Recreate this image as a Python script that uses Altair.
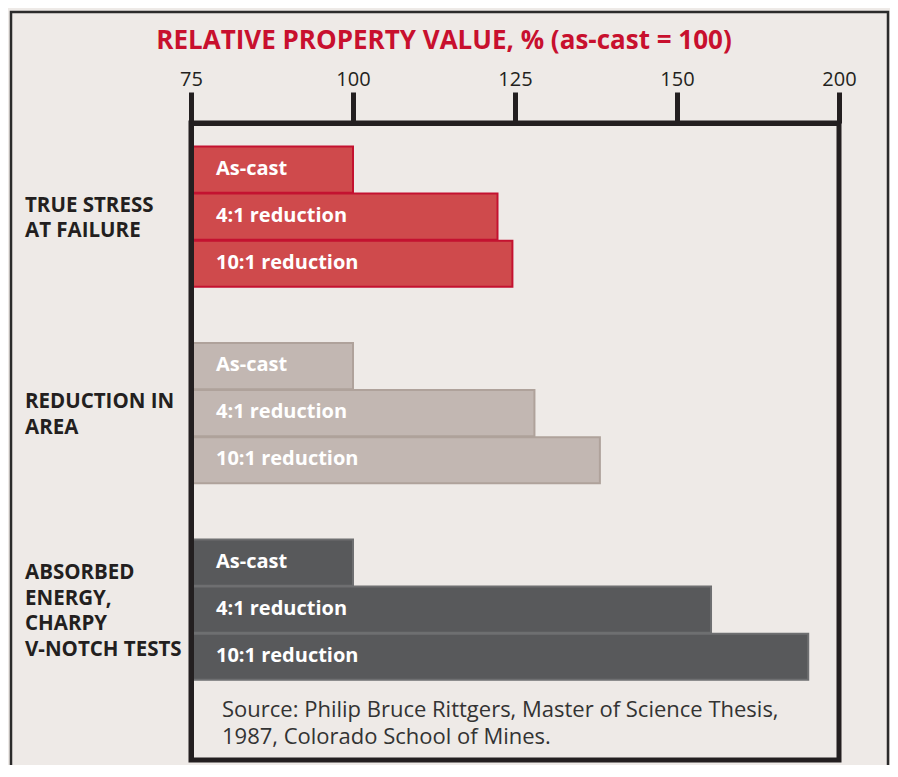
import altair as alt
import pandas as pd

# ---------------- data ----------------
TITLE = "RELATIVE PROPERTY VALUE, % (as-cast = 100)"
GROUPS = [
    "TRUE STRESS\nAT FAILURE",
    "REDUCTION IN\nAREA",
    "ABSORBED\nENERGY,\nCHARPY\nV-NOTCH TESTS",
]
SERIES = ["As-cast", "4:1 reduction", "10:1 reduction"]
TRUE_STRESS = [100, 122.3, 124.6]
REDUCTION_AREA = [100, 128.0, 138.1]
ABSORBED_ENERGY = [100, 160.5, 190.5]
TICKS = [75, 100, 125, 150, 200]
SOURCE = "Source: Philip Bruce Rittgers, Master of Science Thesis,\n1987, Colorado School of Mines."

# ---------------- styles ----------------
FILLS = ["#CF4A4C", "#C2B7B2", "#58595B"]
STROKES = ["#C41230", "#AFA29B", "#6E6F71"]
INK = "#231F20"
BG = "#EEEAE7"
FONT = "Open Sans"
CAT_LH = 25.5

rows = []
for g, vals in zip(GROUPS, [TRUE_STRESS, REDUCTION_AREA, ABSORBED_ENERGY]):
    for s, v in zip(SERIES, vals):
        rows.append({"group": g, "series": s, "value": v})
df = pd.DataFrame(rows)
gdf = pd.DataFrame({"group": GROUPS, "nlines": [g.count("\n") + 1 for g in GROUPS]})

W, H = 648, 637

xscale = alt.Scale(domain=[75, 150, 200], range=[0, 486, W], zero=False, nice=False)
yscale = alt.Scale(domain=GROUPS, paddingInner=0.2864, paddingOuter=0.264, align=0.227)
yoff = alt.YOffset("series:N", scale=alt.Scale(domain=SERIES, paddingInner=0.02, paddingOuter=0))

frame = alt.Chart(pd.DataFrame({"k": [0]})).mark_rect(
    filled=False, stroke="#2B2B2B", strokeWidth=2.5
).encode(
    x=alt.value(-180), x2=alt.value(697), y=alt.value(-111), y2=alt.value(700)
)

bars = alt.Chart(df).mark_bar(strokeWidth=2).encode(
    x=alt.X(
        "value:Q",
        scale=xscale,
        stack=None,
        axis=alt.Axis(
            orient="top", values=TICKS, title=None, grid=False,
            domainWidth=5, domainColor=INK, tickColor=INK, tickWidth=5, tickSize=31,
            labelFont=FONT, labelFontSize=20, labelColor=INK, labelPadding=3,
            labelFlush=False, labelOverlap=False, zindex=1,
        ),
    ),
    x2=alt.X2Datum(75),
    y=alt.Y(
        "group:N",
        scale=yscale,
        sort=GROUPS,
        axis=alt.Axis(
            labels=False, ticks=False, title=None, grid=False,
            domainWidth=5, domainColor=INK, zindex=1,
        ),
    ),
    yOffset=yoff,
    fill=alt.Fill("group:N", scale=alt.Scale(domain=GROUPS, range=FILLS), legend=None),
    stroke=alt.Stroke("group:N", scale=alt.Scale(domain=GROUPS, range=STROKES), legend=None),
)

bar_labels = alt.Chart(df).mark_text(
    align="left", baseline="middle", font=FONT, fontWeight="bold", fontSize=20,
    color="white", dy=-1,
).encode(
    x=alt.value(25),
    y=alt.Y("group:N", scale=yscale, sort=GROUPS),
    yOffset=yoff,
    text="series:N",
)

# category labels: one layer per line count so the text block is centred on its group
cat_layers = []
for n in sorted(set(gdf["nlines"])):
    cat_layers.append(
        alt.Chart(gdf).transform_filter(alt.datum.nlines == n).mark_text(
            align="left", baseline="middle", font=FONT, fontWeight="bold", fontSize=20.5,
            color=INK, lineBreak="\n", lineHeight=CAT_LH, dy=-(n - 1) * CAT_LH / 2 + 2,
        ).encode(
            x=alt.value(-166),
            y=alt.Y("group:N", scale=yscale, sort=GROUPS),
            text="group:N",
        )
    )

title = alt.Chart(pd.DataFrame({"t": [TITLE]})).mark_text(
    align="center", baseline="alphabetic", font=FONT, fontWeight="bold", fontSize=26,
    color="#C8102E",
).encode(x=alt.value(253), y=alt.value(-74), text="t:N")

source = alt.Chart(pd.DataFrame({"t": [SOURCE]})).mark_text(
    align="left", baseline="alphabetic", font=FONT, fontSize=22, color="#333333",
    lineBreak="\n", lineHeight=27.3,
).encode(x=alt.value(31), y=alt.value(594), text="t:N")

chart = alt.layer(frame, bars, bar_labels, *cat_layers, title, source).properties(
    width=W,
    height=H,
    autosize=alt.AutoSizeParams(type="none"),
    padding={"left": 183, "top": 115, "right": 51, "bottom": 5},
    background=BG,
).configure_view(stroke=INK, strokeWidth=5)

chart.save("out.html", embed_options={"renderer": "svg", "actions": False})
